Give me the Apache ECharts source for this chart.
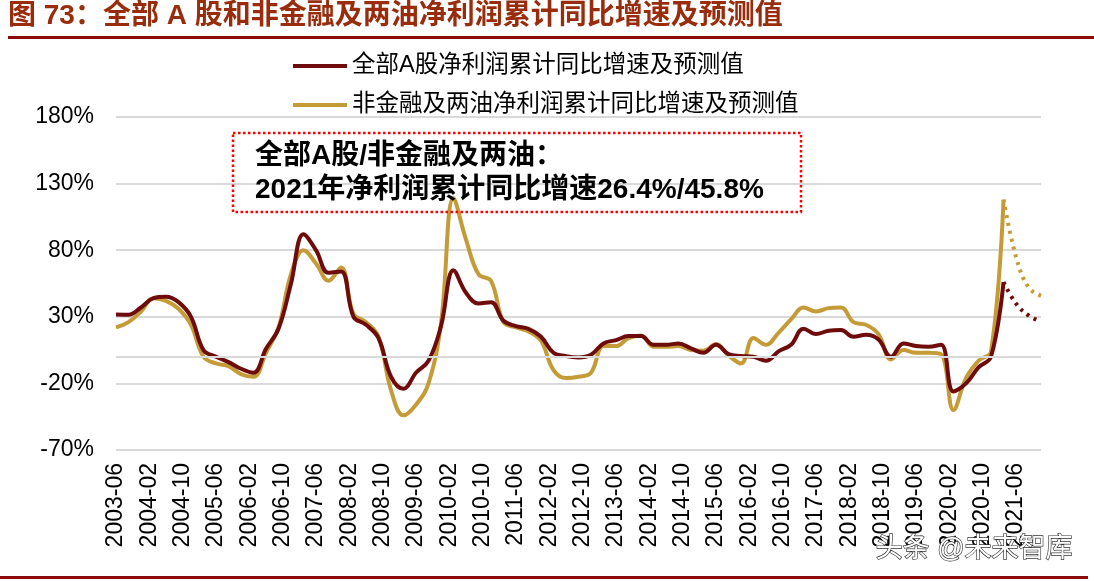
<!DOCTYPE html>
<html>
<head>
<meta charset="utf-8">
<script src="https://cdn.jsdelivr.net/npm/echarts@6/dist/echarts.min.js"></script>
<style>
  html, body { margin: 0; padding: 0; background: #fff; }
  #chart { width: 1094px; height: 581px; }
</style>
</head>
<body>
<div id="chart"></div>
<script>
// Quarterly series, first point is 2003-06, one value per quarter up to 2021-03
const firstQuarter = '2003-06';

const allAGrowth = [
  31.8, 31.5, 37, 44, 45, 41, 30, 5, 0, -4, -9, -12,
  6, 21, 55, 92, 80, 63, 64, 30, 24, 14, -15, -24,
  -12, -3, 23, 65, 48, 40, 41, 27, 23, 21, 15, 3,
  0.5, -0.5, 1.5, 10, 12.5, 15.5, 15.5, 9, 9, 10, 6.3, 3,
  9, 2, 0.5, 0, -3, 4, 9, 21, 17, 19.5, 20, 15,
  16.5, 13, 0, 10, 8, 7.5, 9, -26, -20, -8, 0, 56
];

const nonFinGrowth = [
  22, 26, 34, 44, 42, 36, 24, 0, -5, -7, -13, -15,
  3, 22, 62, 80, 70, 57, 67, 32, 26, 15, -25, -44,
  -36, -20, 25, 119, 88, 62, 57, 26, 22, 19, 12, -10,
  -16, -15, -12, 8, 8, 14, 16, 7.5, 7.5, 8, 5, 4.5,
  9.5, 1, -5, 14, 9, 18, 28, 37, 34, 36.5, 37, 26,
  24, 17, -2, 5, 3, 3, 2, -40, -16, -3, 4, 118
];

// forecast part (dotted), starts from the last actual quarter
const forecastQuarters = ['2021-03', '2021-06', '2021-09', '2021-12'];
const allAForecast = [56, 40, 31, 26.4];
const nonFinForecast = [118, 75, 52, 45.8];

const seriesNames = ['全部A股净利润累计同比增速及预测值', '非金融及两油净利润累计同比增速及预测值'];
const yTicks = [-70, -20, 30, 80, 130, 180];
const lastMonth = '2021-12';

const RED = '#6E0B0B';
const GOLD = '#C59B37';
const FONT = '"Liberation Sans", "Noto Sans CJK SC", sans-serif';

function monthIndex(s) {
  const [y, m] = s.split('-').map(Number);
  const [y0, m0] = firstQuarter.split('-').map(Number);
  return (y - y0) * 12 + (m - m0);
}

function monthLabel(idx) {
  const [y0, m0] = firstQuarter.split('-').map(Number);
  const t = y0 * 12 + (m0 - 1) + idx;
  const mm = (t % 12) + 1;
  return Math.floor(t / 12) + '-' + (mm < 10 ? '0' + mm : mm);
}

const allAData = allAGrowth.map((v, i) => [i * 3, v]);
const nonFinData = nonFinGrowth.map((v, i) => [i * 3, v]);
const allAFc = forecastQuarters.map((d, i) => [monthIndex(d), allAForecast[i]]);
const nonFinFc = forecastQuarters.map((d, i) => [monthIndex(d), nonFinForecast[i]]);

const chart = echarts.init(document.getElementById('chart'));

const option = {
  animation: false,
  backgroundColor: '#fff',
  textStyle: { fontFamily: FONT },
  grid: { left: 116, right: 53, top: 117, bottom: 131 },
  legend: {
    data: seriesNames,
    orient: 'vertical',
    left: 288,
    top: 49,
    icon: 'rect',
    itemWidth: 54,
    itemHeight: 4,
    itemGap: 15,
    textStyle: { fontSize: 23.5, lineHeight: 24, color: '#000', fontFamily: FONT }
  },
  xAxis: {
    type: 'value',
    min: 0,
    max: monthIndex(lastMonth),
    interval: 8,
    splitLine: { show: false },
    axisLine: { show: false },
    axisTick: { show: false },
    axisLabel: {
      rotate: 90,
      margin: 13,
      fontSize: 23,
      color: '#000',
      showMaxLabel: false,
      formatter: v => (v % 8 === 0 ? monthLabel(v) : '')
    }
  },
  yAxis: {
    type: 'value',
    min: yTicks[0],
    max: yTicks[yTicks.length - 1],
    interval: 50,
    axisLine: { show: false },
    axisTick: { show: false },
    splitLine: { lineStyle: { color: '#d9d9d9', width: 2 } },
    axisLabel: {
      margin: 22,
      fontSize: 23,
      color: '#000',
      formatter: v => v + '%'
    }
  },
  series: [
    {
      name: seriesNames[0],
      type: 'line',
      data: allAData,
      smooth: 0.4,
      showSymbol: false,
      z: 3,
      itemStyle: { color: RED },
      lineStyle: { color: RED, width: 4 },
      markLine: {
        silent: true,
        symbol: 'none',
        label: { show: false },
        lineStyle: { color: '#d9d9d9', width: 2, type: 'solid' },
        data: [{ yAxis: 0 }]
      }
    },
    {
      name: seriesNames[1],
      type: 'line',
      data: nonFinData,
      smooth: 0.4,
      showSymbol: false,
      z: 2,
      itemStyle: { color: GOLD },
      lineStyle: { color: GOLD, width: 4 }
    },
    {
      name: 'allAForecast',
      type: 'line',
      data: allAFc,
      smooth: 0.4,
      showSymbol: false,
      z: 3,
      lineStyle: { color: RED, width: 4, type: [3, 5] }
    },
    {
      name: 'nonFinForecast',
      type: 'line',
      data: nonFinFc,
      smooth: 0.4,
      showSymbol: false,
      z: 2,
      lineStyle: { color: GOLD, width: 4, type: [3, 5] }
    }
  ],
  graphic: [
    {
      type: 'text',
      left: 8,
      top: 2,
      style: {
        text: '图 73：全部 A 股和非金融及两油净利润累计同比增速及预测值',
        font: 'bold 28px ' + FONT,
        fill: '#982C0C'
      }
    },
    {
      type: 'rect',
      shape: { x: 8, y: 36, width: 1086, height: 3 },
      style: { fill: '#8B0A0A' }
    },
    {
      type: 'rect',
      shape: { x: 0, y: 576, width: 1088, height: 3 },
      style: { fill: '#8B0A0A' }
    },
    {
      type: 'rect',
      z: 10,
      shape: { x: 233, y: 133, width: 568, height: 79 },
      style: { fill: null, stroke: '#FF0000', lineWidth: 2.5, lineDash: [2.5, 2.5] }
    },
    {
      type: 'text',
      z: 10,
      left: 255,
      top: 142,
      style: {
        text: '全部A股/非金融及两油：',
        font: 'bold 28px ' + FONT,
        fill: '#000'
      }
    },
    {
      type: 'text',
      z: 10,
      left: 255,
      top: 176,
      style: {
        text: '2021年净利润累计同比增速26.4%/45.8%',
        font: 'bold 28px ' + FONT,
        fill: '#000'
      }
    },
    {
      type: 'text',
      z: 10,
      left: 875,
      top: 535,
      style: {
        text: '头条 @未来智库',
        font: '27px ' + FONT,
        fill: '#ffffff',
        stroke: '#333',
        lineWidth: 1.3
      }
    }
  ]
};

chart.setOption(option);
window.addEventListener('resize', () => chart.resize());
</script>
</body>
</html>
